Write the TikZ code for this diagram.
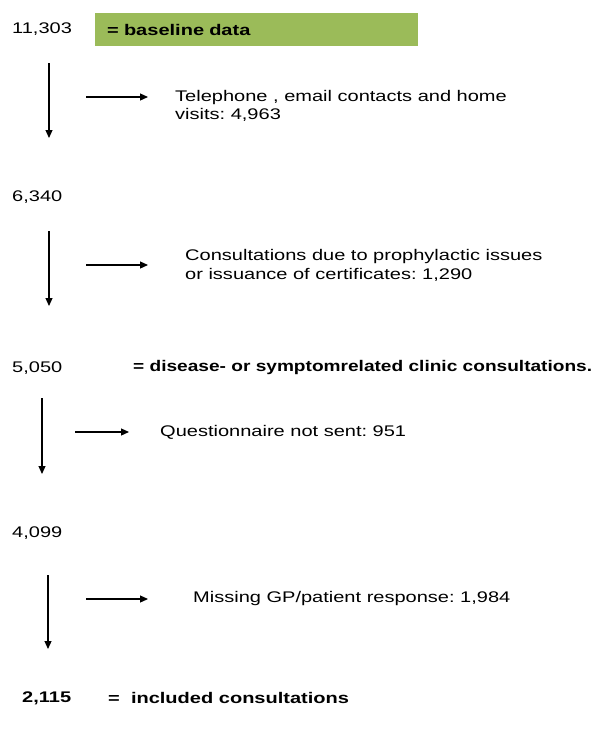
\documentclass[tikz,border=0pt]{standalone}
\usepackage{fontspec}
\setmainfont{Liberation Sans}[FakeStretch=1.3, BoldFeatures={FakeStretch=1.3}]
\newfontfamily\narrowbold{Liberation Sans}[FakeStretch=1.24, BoldFeatures={FakeStretch=1.24}]
\usetikzlibrary{arrows.meta}
\definecolor{baselinegreen}{HTML}{9BBB59}
\frenchspacing

\begin{document}
\begin{tikzpicture}[x=1pt, y=-1pt, font=\fontsize{15.4}{18.5}\selectfont]
    % Define styles
    \tikzset{
        count/.style={anchor=west, inner sep=0pt},
        reason/.style={anchor=west, align=left, inner sep=0pt},
        flow/.style={-{Triangle[length=8pt,width=7pt]}, line width=1.2pt},
        aside/.style={-{Triangle[length=8pt,width=7pt]}, line width=1.2pt},
        greenbox/.style={fill=baselinegreen, anchor=north west, minimum height=33pt,
                         text width=299pt, inner xsep=12pt, align=left}
    }
    \useasboundingbox (0,0) rectangle (600,729);

    % Counts at each stage
    \node[count] (n1) at (12,29) {11,303};
    \node[greenbox] (baseline) at (95,13) {\bfseries = baseline data};

    \node[count] (n2) at (12,197) {6,340};

    \node[count] (n3) at (12,368) {5,050};
    \node[count] (clinic) at (133,368) {\narrowbold\bfseries = disease- or symptomrelated clinic consultations.};

    \node[count] (n4) at (12,533) {4,099};

    \node[count] (n5) at (22,698) {\bfseries 2,115};
    \node[count] (included) at (108,698) {\bfseries =\ \ included consultations};

    % Exclusions
    \node[reason] (r1) at (175,106) {Telephone , email contacts and home\\visits: 4,963};
    \node[reason] (r2) at (185,265.5) {Consultations due to prophylactic issues\\or issuance of certificates: 1,290};
    \node[reason] (r3) at (160,432) {Questionnaire not sent: 951};
    \node[reason] (r4) at (193,599) {Missing GP/patient response: 1,984};

    % Arrow end points
    \coordinate (d1s) at (49,63);   \coordinate (d1e) at (49,138);
    \coordinate (d2s) at (49,231);  \coordinate (d2e) at (49,306);
    \coordinate (d3s) at (42,398);  \coordinate (d3e) at (42,474);
    \coordinate (d4s) at (48,575);  \coordinate (d4e) at (48,649);

    \coordinate (a1) at (86,97);    \coordinate (b1) at (148,97);
    \coordinate (a2) at (86,265);   \coordinate (b2) at (148,265);
    \coordinate (a3) at (75,432);   \coordinate (b3) at (129,432);
    \coordinate (a4) at (86,599);   \coordinate (b4) at (148,599);

    % Down arrows
    \foreach \i in {1,...,4}
        \draw[flow] (d\i s) -- (d\i e);

    % Side arrows
    \foreach \i in {1,...,4}
        \draw[aside] (a\i) -- (b\i);

\end{tikzpicture}
\end{document}
